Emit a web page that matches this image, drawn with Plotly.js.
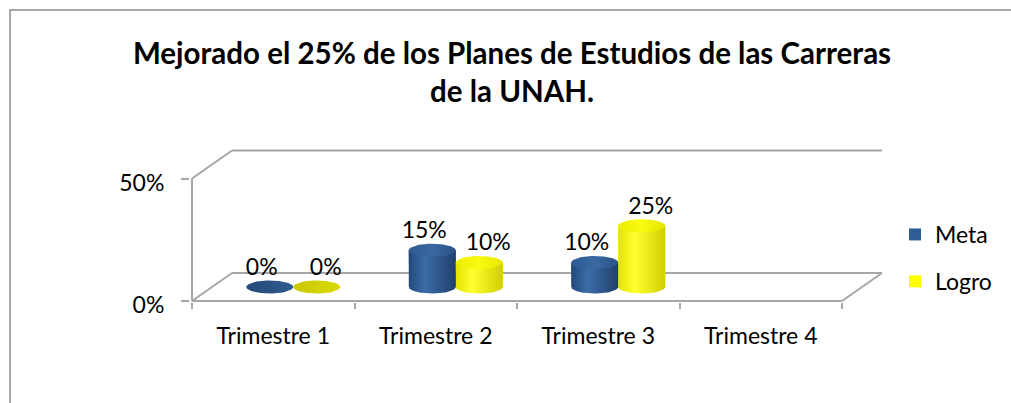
<!DOCTYPE html>
<html>
<head>
<meta charset="utf-8">
<script src="https://cdn.plot.ly/plotly-3.0.1.min.js"></script>
<style>html,body{margin:0;padding:0;background:#fff;}#chart{width:1011px;height:403px;}</style>
</head>
<body>
<div id="chart"></div>
<script>
// ---- data ----
const categories = ['Trimestre 1', 'Trimestre 2', 'Trimestre 3', 'Trimestre 4'];
const metaValues = [0, 0.15, 0.10, null];
const logroValues = [0, 0.10, 0.25, null];
const seriesNames = ['Meta', 'Logro'];
const yTickVals = [0, 0.5];
const yTickText = ['0%', '50%'];
const chartTitle = 'Mejorado el 25% de los Planes de Estudios de las Carreras<br>de la UNAH.';

// ---- geometry (pixels) ----
const W = 1011, H = 403;
const X0 = 192, Y0 = 301;
const catPx = 162.5, yPx = 245;
const plotL = 190, plotR = 886, plotT = 145, plotB = 302;
const depthX = 40, depthY = 28;
const halfW = 23.5, capRy = 6.5;

const DX = depthX / catPx, DY = depthY / yPx;
const HW = halfW / catPx, RY = capRy / yPx;
const BASE = DY / 2;
const xRange = [(plotL - X0) / catPx, (plotR - X0) / catPx];
const yRange = [(Y0 - plotB) / yPx, (Y0 - plotT) / yPx];
const px2paperX = p => (p - plotL) / (plotR - plotL);
const px2paperY = p => (plotB - p) / (plotB - plotT);

const FONT = 'Lato, "Open Sans", sans-serif';
const GRID = '#A6A6A6';

const styles = [
  { bar: '#2F5E96', body: [[0, '#23487A'], [0.35, '#3B6DA8'], [1, '#213F6B']], cap: [[0, '#2E5A90'], [0.5, '#3A68A2'], [1, '#2B5387']], flat: [[0, '#26497A'], [1, '#2F5A8E']] },
  { bar: '#FFFF00', body: [[0, '#E3E300'], [0.35, '#FFFF30'], [1, '#CFCF00']], cap: [[0, '#EDED00'], [0.5, '#FAFA10'], [1, '#E5E500']], flat: [[0, '#C9C900'], [1, '#D9D900']] }
];

const seriesValues = [metaValues, logroValues];
const traces = [];

// data bars (also provide the legend swatches)
seriesValues.forEach((vals, s) => {
  const xs = [], ys = [];
  vals.forEach((v, i) => {
    if (v === null) return;
    xs.push(i + 0.5 + DX / 2 + (s === 0 ? -HW : HW));
    ys.push(v);
  });
  traces.push({
    type: 'bar', name: seriesNames[s], x: xs, y: ys, base: BASE, width: 2 * HW,
    marker: { color: styles[s].bar, line: { width: 0 } }, hoverinfo: 'skip',
    legendgroup: seriesNames[s]
  });
});

// shaded cylinder bodies and caps
const N = 48;
categories.forEach((c, i) => {
  seriesValues.forEach((vals, s) => {
    const v = vals[i];
    if (v === null) return;
    const cx = i + 0.5 + DX / 2 + (s === 0 ? -HW : HW);
    const top = BASE + v;
    if (v > 0) {
      const bx = [cx - HW], by = [top];
      for (let k = 0; k <= N; k++) {
        const t = Math.PI + Math.PI * k / N;
        bx.push(cx + HW * Math.cos(t));
        by.push(BASE + RY * Math.sin(t));
      }
      bx.push(cx + HW); by.push(top);
      traces.push({
        type: 'scatter', mode: 'lines', x: bx, y: by, fill: 'toself',
        line: { width: 0 }, fillgradient: { type: 'horizontal', colorscale: styles[s].body },
        showlegend: false, hoverinfo: 'skip'
      });
    }
    const ex = [], ey = [];
    for (let k = 0; k <= N * 2; k++) {
      const t = 2 * Math.PI * k / (N * 2);
      ex.push(cx + HW * Math.cos(t));
      ey.push(top + RY * Math.sin(t));
    }
    traces.push({
      type: 'scatter', mode: 'lines', x: ex, y: ey, fill: 'toself',
      line: { width: 0 }, fillgradient: { type: 'horizontal', colorscale: v > 0 ? styles[s].cap : styles[s].flat },
      showlegend: false, hoverinfo: 'skip'
    });
  });
});

// data labels
const lx = [], ly = [], lt = [];
categories.forEach((c, i) => {
  seriesValues.forEach((vals, s) => {
    const v = vals[i];
    if (v === null) return;
    const cx = i + 0.5 + DX / 2 + (s === 0 ? -HW : HW);
    lx.push(cx + (s === 0 ? -8 : 9) / catPx);
    ly.push(BASE + v + 18 / yPx);
    lt.push(Math.round(v * 100) + '%');
  });
});
traces.push({
  type: 'scatter', mode: 'text', x: lx, y: ly, text: lt, textposition: 'middle center',
  textfont: { family: FONT, size: 23, color: '#000' }, cliponaxis: false,
  showlegend: false, hoverinfo: 'skip'
});

// 3D frame
const L = (x0, y0, x1, y1) => ({ type: 'line', xref: 'x', yref: 'y', x0, y0, x1, y1, layer: 'below', line: { color: GRID, width: 2 } });
const nCat = categories.length;
const yTop = yTickVals[yTickVals.length - 1];
const shapes = [
  L(0, 0, nCat, 0),
  L(0, 0, 0, yTop),
  L(0, 0, DX, DY),
  L(0, yTop, DX, yTop + DY),
  L(DX, DY, nCat + DX, DY),
  L(DX, yTop + DY, nCat + DX, yTop + DY),
  L(nCat, 0, nCat + DX, DY),
  { type: 'rect', xref: 'paper', yref: 'paper', x0: px2paperX(10), x1: px2paperX(1030), y0: px2paperY(10), y1: px2paperY(430),
    line: { color: '#8C8C8C', width: 1.5 }, fillcolor: 'rgba(0,0,0,0)', layer: 'below' }
];

const layout = {
  width: W, height: H,
  margin: { l: plotL, r: W - plotR, t: plotT, b: H - plotB, pad: 0 },
  paper_bgcolor: '#fff', plot_bgcolor: 'rgba(0,0,0,0)',
  showlegend: true, hovermode: false, barmode: 'overlay',
  title: {
    text: chartTitle, xref: 'container', x: 512 / W, xanchor: 'center',
    yref: 'container', y: 1 - 64 / H, yanchor: 'top',
    font: { family: FONT, size: 29.5, color: '#000', weight: 700 }
  },
  xaxis: {
    type: 'linear', range: xRange, fixedrange: true,
    tickmode: 'array', tickvals: categories.map((c, i) => i + 0.5), ticktext: categories,
    ticks: '', showline: false, showgrid: false, zeroline: false,
    tickfont: { family: FONT, size: 23, color: '#000' }, ticklabelstandoff: 18,
    minor: { tickmode: 'array', tickvals: categories.map((c, i) => i).concat([nCat]), ticks: 'outside', ticklen: 6, tickwidth: 2, tickcolor: GRID, showgrid: false }
  },
  yaxis: {
    range: yRange, fixedrange: true,
    tickmode: 'array', tickvals: yTickVals, ticktext: yTickText,
    ticks: 'outside', ticklen: 8, tickwidth: 2, tickcolor: GRID,
    showline: false, showgrid: false, zeroline: false,
    tickfont: { family: FONT, size: 23, color: '#000' }, ticklabelstandoff: 12, ticklabelshift: 4
  },
  legend: {
    x: px2paperX(895), xanchor: 'left', y: px2paperY(213), yanchor: 'top',
    font: { family: FONT, size: 23, color: '#000' }, tracegroupgap: 14,
    bgcolor: 'rgba(0,0,0,0)', borderwidth: 0
  },
  shapes: shapes
};

Plotly.newPlot('chart', traces, layout, { staticPlot: true, displayModeBar: false });
</script>
</body>
</html>
